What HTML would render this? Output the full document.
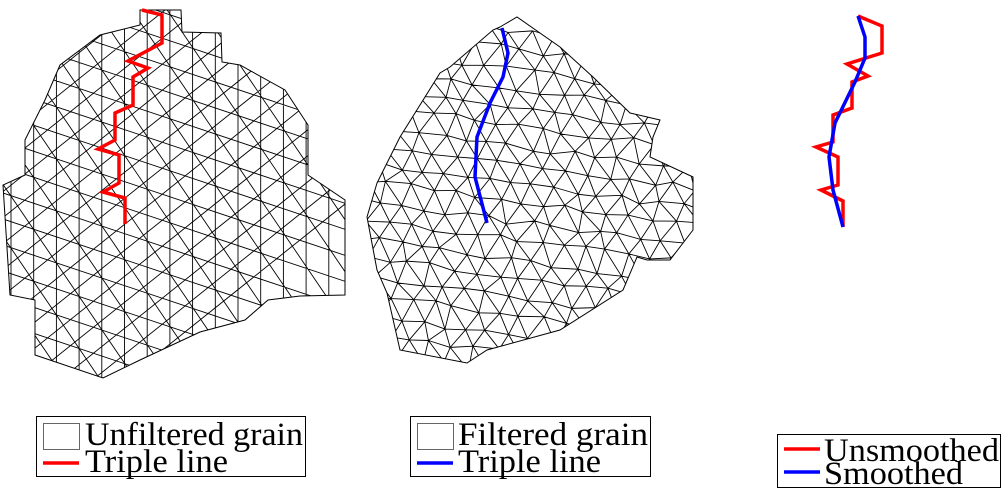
<!DOCTYPE html>
<html style="overflow:hidden"><head><meta charset="utf-8"><style>
html,body{margin:0;padding:0;background:#fff;width:1003px;height:489px;overflow:hidden}
svg{display:block}
text{font-family:"Liberation Serif",serif;font-size:33px;fill:#000}
</style></head><body>
<svg id="fig" width="1003" height="489" viewBox="0 0 1003 489">
<defs>
<clipPath id="clipL"><polygon id="polyL"/></clipPath>
<clipPath id="clipM"><polygon id="polyM"/></clipPath>
</defs>
<g id="meshL"></g>
<g id="meshM"></g>
<g id="lines"></g>
<g>
<rect x="36.5" y="416.5" width="269" height="60" fill="#fff" stroke="#000" stroke-width="1"/>
<rect x="43.5" y="423.5" width="36" height="26" fill="#fff" stroke="#666" stroke-width="1"/>
<text x="85" y="445" textLength="218" lengthAdjust="spacingAndGlyphs">Unfiltered grain</text>
<line x1="43" y1="463" x2="79" y2="463" stroke="#f00" stroke-width="3.5"/>
<text x="85" y="472" textLength="143" lengthAdjust="spacingAndGlyphs">Triple line</text>
</g>
<g>
<rect x="410.5" y="416.5" width="240" height="60" fill="#fff" stroke="#000" stroke-width="1"/>
<rect x="417.5" y="423.5" width="36" height="26" fill="#fff" stroke="#666" stroke-width="1"/>
<text x="458" y="445" textLength="190" lengthAdjust="spacingAndGlyphs">Filtered grain</text>
<line x1="417" y1="463" x2="453" y2="463" stroke="#00f" stroke-width="3.5"/>
<text x="458" y="472" textLength="143" lengthAdjust="spacingAndGlyphs">Triple line</text>
</g>
<g>
<rect x="777.5" y="434.5" width="223" height="53" fill="#fff" stroke="#000" stroke-width="1"/>
<line x1="784" y1="449" x2="820" y2="449" stroke="#f00" stroke-width="3.5"/>
<text x="824" y="461" textLength="175" lengthAdjust="spacingAndGlyphs">Unsmoothed</text>
<line x1="784" y1="472" x2="820" y2="472" stroke="#00f" stroke-width="3.5"/>
<text x="824" y="484" textLength="139" lengthAdjust="spacingAndGlyphs">Smoothed</text>
</g>
</svg>
<script>
const outlineL=[[140,10],[181,10],[182,32],[221,33],[222,62],[240,65],[285,90],[308,125],[308,175],[345,200],[345,295],[300,296],[268,300],[245,320],[200,332],[140,360],[103,378],[35,355],[35,300],[10,295],[3,185],[25,175],[25,140],[45,100],[60,65],[100,35],[140,25]];
const outlineM=[[500,27],[517,17],[560,47],[593,77],[630,113],[660,120],[653,137],[650,157],[693,177],[693,230],[670,260],[647,260],[637,257],[623,290],[560,330],[487,350],[467,363],[400,350],[387,293],[377,270],[367,217],[377,183],[400,137],[440,73],[450,67],[493,30]];
const redL=[[142,10],[162,15],[162,43],[128,61],[148,68],[133,77],[133,105],[115,113],[115,140],[98,149],[119,155],[119,183],[103,192],[125,198],[125,224]];
const blueM=[[502,28],[508,53],[503,77],[490,103],[477,137],[475,177],[487,223]];
const redR=[[858,16],[882,26],[882,53],[847,64],[868,76],[852,82],[852,108],[833,115],[833,142],[816,147],[838,157],[838,185],[821,190],[843,201],[843,227]];
const blueR=[[858,16],[865,37],[865,58],[855,82],[835,123],[829,157],[833,190],[843,227]];
const NS='http://www.w3.org/2000/svg';
function mk(t,a,p){const e=document.createElementNS(NS,t);for(const k in a)e.setAttribute(k,a[k]);p.appendChild(e);return e;}
const pts=a=>a.map(p=>p.join(',')).join(' ');
document.getElementById('polyL').setAttribute('points',pts(outlineL));
document.getElementById('polyM').setAttribute('points',pts(outlineM));
const gL=document.getElementById('meshL');
mk('polygon',{points:pts(outlineL),fill:'#fff',stroke:'#000','stroke-width':1},gL);
const cl=mk('g',{'clip-path':'url(#clipL)',stroke:'#000','stroke-width':0.9,fill:'none'},gL);
let d='';
for(let x=11;x<350;x+=22.7)d+=`M${x} 0V400`;
for(let c=-120;c<400;c+=26)d+=`M0 ${c}L350 ${c+117}`;
for(let c=-300;c<500;c+=26)d+=`M0 ${c}L350 ${c-280}`;
for(let c=-600;c<400;c+=52)d+=`M0 ${c}L350 ${c+515}`;
mk('path',{d:d},cl);
const gM=document.getElementById('meshM');
mk('polygon',{points:pts(outlineM),fill:'#fff',stroke:'#000','stroke-width':1},gM);
const cm=mk('g',{'clip-path':'url(#clipM)',stroke:'#000','stroke-width':0.9,fill:'none'},gM);
let s=7;const rnd=()=>{s=(s*16807)%2147483647;return s/2147483647-0.5;};
const h=19,w=22,rows=[];
for(let r=0;r<22;r++){const row=[];for(let c=0;c<18;c++){row.push([355+c*w+(r%2)*w/2+rnd()*8,10+r*h+c*3+rnd()*7]);}rows.push(row);}
let dm='';
for(let r=0;r<rows.length;r++)for(let c=0;c<18;c++){const p=rows[r][c];
if(c<17){const q=rows[r][c+1];dm+=`M${p[0]} ${p[1]}L${q[0]} ${q[1]}`;}
if(r<rows.length-1){const a=rows[r+1][c];dm+=`M${p[0]} ${p[1]}L${a[0]} ${a[1]}`;
const cc=r%2?c+1:c-1;if(cc>=0&&cc<18){const b=rows[r+1][cc];dm+=`M${p[0]} ${p[1]}L${b[0]} ${b[1]}`;}}}
mk('path',{d:dm},cm);
const gl=document.getElementById('lines');
const l1=mk('polyline',{points:pts(redL),fill:'none',stroke:'#f00','stroke-width':3.5},gl);


const l2=mk('path',{d:'M'+blueM.map(p=>p.join(' ')).join('L'),fill:'none',stroke:'#00f','stroke-width':3.5,'stroke-linejoin':'round'},gl);


const l3=mk('polyline',{points:pts(redR),fill:'none',stroke:'#f00','stroke-width':3.5},gl);


const l4=mk('polyline',{points:pts(blueR),fill:'none',stroke:'#00f','stroke-width':3.5,'stroke-linejoin':'round'},gl);


</script>
</body></html>
